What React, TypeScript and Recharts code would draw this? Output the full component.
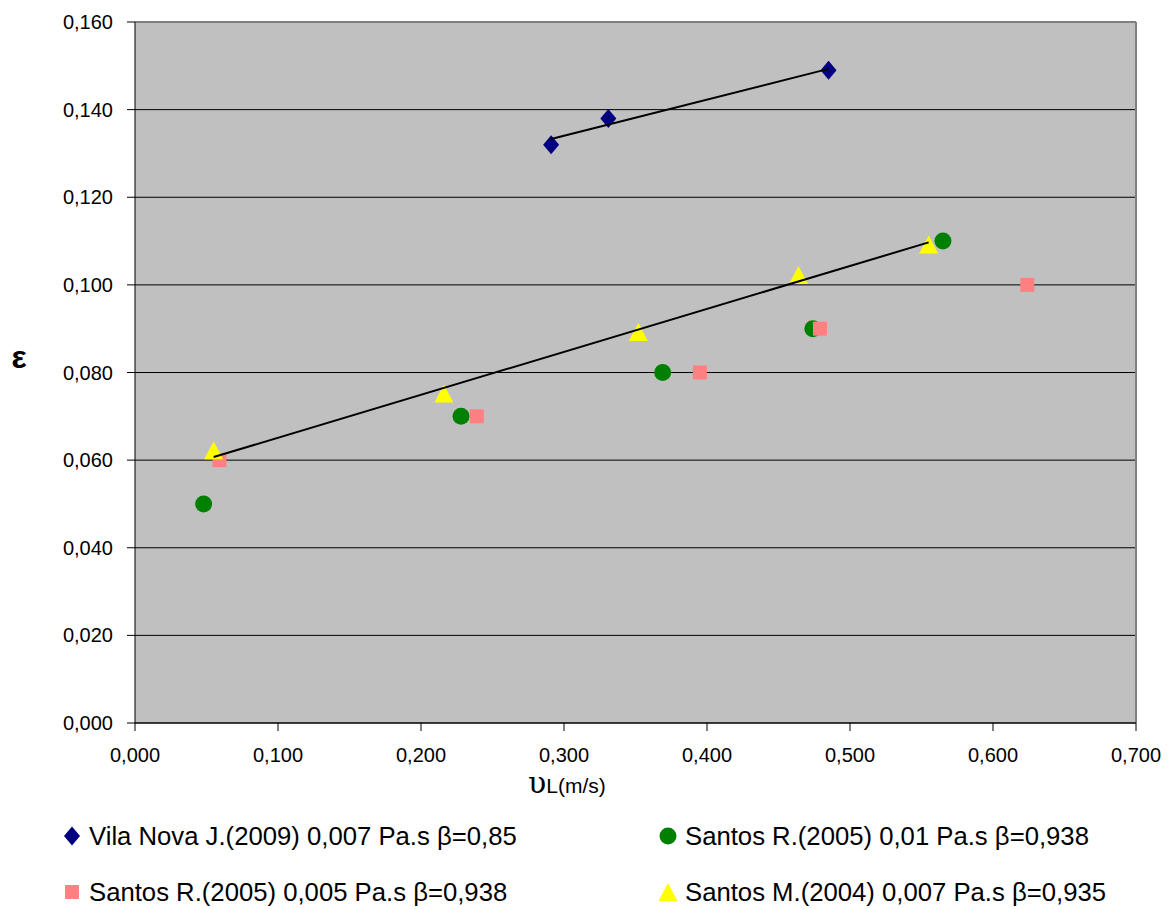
import React from 'react';
import {
  ScatterChart, Scatter, XAxis, YAxis, CartesianGrid, ReferenceLine,
} from 'recharts';

// values (x = υL in m/s, y = ε)
const vilaNova = [
  { x: 0.291, y: 0.132 },
  { x: 0.331, y: 0.138 },
  { x: 0.485, y: 0.149 },
];
const santosR01 = [
  { x: 0.048, y: 0.05 },
  { x: 0.228, y: 0.07 },
  { x: 0.369, y: 0.08 },
  { x: 0.474, y: 0.09 },
  { x: 0.565, y: 0.11 },
];
const santosR005 = [
  { x: 0.059, y: 0.06 },
  { x: 0.239, y: 0.07 },
  { x: 0.395, y: 0.08 },
  { x: 0.479, y: 0.09 },
  { x: 0.624, y: 0.1 },
];
const santosM = [
  { x: 0.055, y: 0.062 },
  { x: 0.216, y: 0.075 },
  { x: 0.352, y: 0.089 },
  { x: 0.464, y: 0.102 },
  { x: 0.555, y: 0.109 },
];
// linear trend lines (end points)
const trendVilaNova = [
  { x: 0.291, y: 0.1333 },
  { x: 0.485, y: 0.1493 },
];
const trendSantosM = [
  { x: 0.055, y: 0.0607 },
  { x: 0.555, y: 0.1097 },
];

const xTicks = [0, 0.1, 0.2, 0.3, 0.4, 0.5, 0.6, 0.7];
const yTicks = [0, 0.02, 0.04, 0.06, 0.08, 0.1, 0.12, 0.14, 0.16];

const FONT = '"Liberation Sans", Arial, sans-serif';
const fmt = (v: number) => v.toFixed(3).replace('.', ',');

const Diamond = ({ cx, cy }: any) => (
  <polygon points={`${cx},${cy - 9.5} ${cx + 8},${cy} ${cx},${cy + 9.5} ${cx - 8},${cy}`} fill="#000080" />
);
const Dot = ({ cx, cy }: any) => <circle cx={cx} cy={cy} r={8.5} fill="#008000" />;
const Square = ({ cx, cy }: any) => <rect x={cx - 7} y={cy - 7} width={14} height={14} fill="#FF8080" />;
const Triangle = ({ cx, cy }: any) => (
  <polygon points={`${cx},${cy - 10} ${cx + 9.5},${cy + 8} ${cx - 9.5},${cy + 8}`} fill="#FFFF00" />
);
const NoShape = () => <g />;

const LEGEND = [
  { label: 'Vila Nova J.(2009) 0,007 Pa.s β=0,85', shape: 'diamond', left: 62, top: 836 },
  { label: 'Santos R.(2005) 0,01 Pa.s β=0,938', shape: 'circle', left: 658, top: 836 },
  { label: 'Santos R.(2005) 0,005 Pa.s β=0,938', shape: 'square', left: 62, top: 892 },
  { label: 'Santos M.(2004) 0,007 Pa.s β=0,935', shape: 'triangle', left: 658, top: 892 },
];

function LegendIcon({ shape }: { shape: string }) {
  return (
    <svg width={20} height={20} style={{ display: 'block' }}>
      {shape === 'diamond' && <polygon points="10,0.5 18,10 10,19.5 2,10" fill="#000080" />}
      {shape === 'circle' && <circle cx={10} cy={10} r={8.5} fill="#008000" />}
      {shape === 'square' && <rect x={3} y={3} width={14} height={14} fill="#FF8080" />}
      {shape === 'triangle' && <polygon points="10,1 19.5,19 0.5,19" fill="#FFFF00" />}
    </svg>
  );
}

export default function App() {
  return (
    <div style={{ position: 'absolute', left: 0, top: 0, width: 1172, height: 909, background: '#fff', fontFamily: FONT }}>
      <ScatterChart width={1172} height={909} margin={{ top: 22, right: 36, bottom: 156, left: 0 }}>
        <CartesianGrid vertical={false} stroke="#000" fill="#C0C0C0" horizontalValues={yTicks.slice(0, 8)} />
        <XAxis
          type="number"
          dataKey="x"
          domain={[0, 0.7]}
          ticks={xTicks}
          tickFormatter={fmt}
          height={30}
          tickSize={8}
          tickMargin={17}
          stroke="#000"
          tick={{ fill: '#000', fontSize: 20, fontFamily: FONT }}
          interval={0}
          allowDataOverflow
          label={{
            content: () => (
              <text x={528} y={793} fill="#000" fontFamily={FONT}>
                <tspan fontSize={30} fontFamily='"DejaVu Serif", serif'>υ</tspan>
                <tspan fontSize={21}>L(m/s)</tspan>
              </text>
            ),
          }}
        />
        <YAxis
          type="number"
          dataKey="y"
          domain={[0, 0.16]}
          ticks={yTicks}
          tickFormatter={fmt}
          width={135}
          tickSize={8}
          tickMargin={14}
          stroke="#000"
          tick={{ fill: '#000', fontSize: 20, fontFamily: FONT }}
          interval={0}
          allowDataOverflow
          label={{
            content: () => (
              <text x={19} y={368} textAnchor="middle" fontSize={32} fontWeight="bold" fill="#000" fontFamily={FONT}>ε</text>
            ),
          }}
        />
        <ReferenceLine y={0.16} stroke="#808080" strokeWidth={2} />
        <ReferenceLine x={0.7} stroke="#808080" strokeWidth={2} />
        <Scatter data={vilaNova} shape={Diamond} isAnimationActive={false} />
        <Scatter data={santosR01} shape={Dot} isAnimationActive={false} />
        <Scatter data={santosR005} shape={Square} isAnimationActive={false} />
        <Scatter data={santosM} shape={Triangle} isAnimationActive={false} />
        <Scatter data={trendVilaNova} shape={NoShape} line={{ stroke: '#000', strokeWidth: 2 }} isAnimationActive={false} />
        <Scatter data={trendSantosM} shape={NoShape} line={{ stroke: '#000', strokeWidth: 2 }} isAnimationActive={false} />
      </ScatterChart>
      {LEGEND.map(item => (
        <div
          key={item.label}
          style={{ position: 'absolute', left: item.left, top: item.top - 15, height: 30, display: 'flex', alignItems: 'center', gap: 7, fontSize: 25.7, color: '#000', whiteSpace: 'nowrap' }}
        >
          <LegendIcon shape={item.shape} />
          <span>{item.label}</span>
        </div>
      ))}
    </div>
  );
}
